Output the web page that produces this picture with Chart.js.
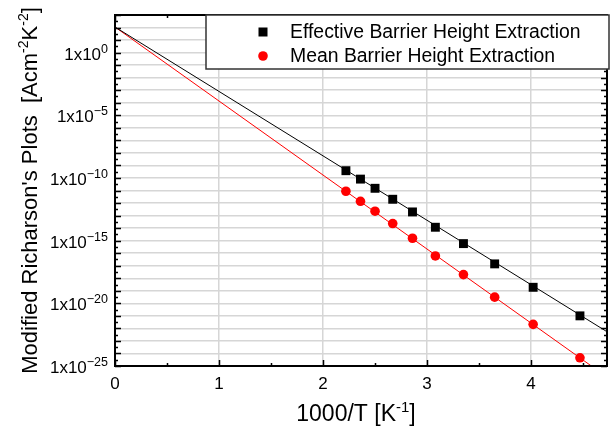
<!DOCTYPE html>
<html>
<head>
<meta charset="utf-8">
<script src="https://cdn.jsdelivr.net/npm/chart.js@4"></script>
<style>
  body { margin: 0; background: #fff; }
  #wrap { width: 616px; height: 428px; }
</style>
</head>
<body>
<div id="wrap"><canvas id="myChart" width="616" height="428"></canvas></div>
<script>
// 1000/T positions of the measured points
const invT = [2.22, 2.36, 2.50, 2.67, 2.86, 3.08, 3.35, 3.65, 4.02, 4.47];

// J/T^2 for both extractions [A cm^-2 K^-2]
const effective = [3.8e-10, 8.1e-11, 1.5e-11, 2.0e-12, 1.95e-13, 1.17e-14, 5.8e-16, 1.4e-17, 1.9e-19, 1.0e-21];
const mean = [8.7e-12, 1.38e-12, 2.24e-13, 2.3e-14, 1.55e-15, 6.0e-17, 1.95e-18, 3.1e-20, 2.1e-22, 4.5e-25];

// linear fits, from the intercept to the right edge
const fitX = [0, 4.73];
const effectiveFit = [1.1e2, 5.4e-23];
const meanFit = [1.1e2, 1.3e-26];

const seriesNames = ["Effective Barrier Height Extraction", "Mean Barrier Height Extraction"];

// axis ticks
const xTicks = [0, 1, 2, 3, 4];
const yLabelExponents = [0, -5, -10, -15, -20, -25];
const yMinExp = -25, yMaxExp = 3;

const FONT = '"Liberation Sans", Arial, Helvetica, sans-serif';
Chart.defaults.font.family = FONT;
Chart.defaults.color = '#000';

function pairs(xs, ys) {
  return xs.map(function (x, i) { return { x: x, y: ys[i] }; });
}

// text with superscript pieces: parts = [[text, isSup], ...]
function drawParts(ctx, parts, x, y, align, size, supSize, rise) {
  const widths = parts.map(function (p) {
    ctx.font = (p[1] ? supSize : size) + 'px ' + FONT;
    return ctx.measureText(p[0]).width;
  });
  const total = widths.reduce(function (a, b) { return a + b; }, 0);
  let cx = align === 'right' ? x - total : align === 'center' ? x - total / 2 : x;
  ctx.textAlign = 'left';
  ctx.textBaseline = 'alphabetic';
  parts.forEach(function (p, i) {
    ctx.font = (p[1] ? supSize : size) + 'px ' + FONT;
    ctx.fillText(p[0], cx, p[1] ? y - rise : y);
    cx += widths[i];
  });
}

const decorations = {
  id: 'decorations',
  afterDatasetsDraw: function (chart) {
    const ctx = chart.ctx;
    const a = chart.chartArea;
    const xs = chart.scales.x, ys = chart.scales.y;
    ctx.save();
    ctx.strokeStyle = '#000';

    // inward tick marks on all four sides
    ctx.lineWidth = 1.5;
    ctx.beginPath();
    for (let v = 0; v <= 4.5; v += 0.5) {
      const px = Math.round(xs.getPixelForValue(v)) + 0.5;
      const len = (v % 1 === 0) ? 6 : 3;
      ctx.moveTo(px, a.bottom); ctx.lineTo(px, a.bottom - len);
      ctx.moveTo(px, a.top); ctx.lineTo(px, a.top + len);
    }
    for (let e = yMinExp; e <= yMaxExp; e += 0.5) {
      const py = Math.round(ys.getPixelForValue(Math.pow(10, e))) + 0.5;
      const len = (e % 1 === 0) ? 6 : 3;
      ctx.moveTo(a.left, py); ctx.lineTo(a.left + len, py);
      ctx.moveTo(a.right, py); ctx.lineTo(a.right - len, py);
    }
    ctx.stroke();

    // frame
    ctx.lineWidth = 2;
    ctx.strokeRect(a.left, a.top, a.right - a.left, a.bottom - a.top);
    ctx.restore();
  },
  afterDraw: function (chart) {
    const ctx = chart.ctx;
    const a = chart.chartArea;
    const ys = chart.scales.y;
    ctx.save();
    ctx.fillStyle = '#000';

    // y tick labels 1x10^n
    yLabelExponents.forEach(function (e) {
      const py = ys.getPixelForValue(Math.pow(10, e));
      const exp = e < 0 ? '\u2212' + (-e) : String(e);
      drawParts(ctx, [['1x10', false], [exp, true]], a.left - 7, py + 7, 'right', 17, 12.5, 7);
    });

    // x title
    drawParts(ctx, [['1000/T [K', false], ['-1', true], [']', false]], 356, 421, 'center', 23, 15, 9);

    // y title
    ctx.save();
    ctx.translate(37, (a.top + a.bottom) / 2);
    ctx.rotate(-Math.PI / 2);
    drawParts(ctx, [["Modified Richarson's Plots  [Acm", false], ['-2', true], ['K', false], ['-2', true], [']', false]],
      0, 0, 'center', 22, 14, 9);
    ctx.restore();

    // legend box
    const lx = 206, ly = 15, lw = 403, lh = 54;
    ctx.fillStyle = '#fff';
    ctx.fillRect(lx, ly, lw, lh);
    ctx.strokeStyle = '#333';
    ctx.lineWidth = 1.5;
    ctx.strokeRect(lx, ly, lw, lh);

    ctx.fillStyle = '#000';
    ctx.fillRect(263 - 4.5, 32 - 4.5, 9, 9);
    ctx.fillStyle = '#ff0000';
    ctx.beginPath();
    ctx.arc(263, 56, 4.8, 0, Math.PI * 2);
    ctx.fill();

    ctx.fillStyle = '#000';
    ctx.font = '19.4px ' + FONT;
    ctx.textAlign = 'left';
    ctx.textBaseline = 'middle';
    ctx.fillText(seriesNames[0], 290, 33);
    ctx.fillText(seriesNames[1], 290, 57);
    ctx.restore();
  }
};

const data = {
  datasets: [
    {
      label: seriesNames[0] + ' fit',
      data: pairs(fitX, effectiveFit),
      showLine: true,
      borderColor: '#000',
      borderWidth: 1,
      pointRadius: 0,
      order: 2
    },
    {
      label: seriesNames[1] + ' fit',
      data: pairs(fitX, meanFit),
      showLine: true,
      borderColor: '#ff0000',
      borderWidth: 1,
      pointRadius: 0,
      order: 2
    },
    {
      label: seriesNames[0],
      data: pairs(invT, effective),
      pointStyle: 'rect',
      pointRadius: 6.3,
      backgroundColor: '#000',
      borderColor: '#000',
      borderWidth: 0,
      order: 1
    },
    {
      label: seriesNames[1],
      data: pairs(invT, mean),
      pointStyle: 'circle',
      pointRadius: 4.8,
      backgroundColor: '#ff0000',
      borderColor: '#ff0000',
      borderWidth: 0,
      order: 1
    }
  ]
};

const ctx = document.getElementById('myChart').getContext('2d');

const myChart = new Chart(ctx, {
  type: 'scatter',
  data: data,
  plugins: [decorations],
  options: {
    responsive: false,
    animation: false,
    layout: { padding: { top: 15, right: 9, left: 0, bottom: 0 } },
    plugins: { legend: { display: false }, tooltip: { enabled: false } },
    scales: {
      x: {
        type: 'linear',
        min: 0,
        max: 4.73,
        afterFit: function (s) { s.height = 62; },
        ticks: {
          stepSize: 1,
          includeBounds: false,
          padding: 8,
          font: { size: 17 },
          color: '#000'
        },
        afterBuildTicks: function (s) { s.ticks = xTicks.map(function (v) { return { value: v }; }); },
        grid: { color: '#d6d6d6', lineWidth: 1.5, drawTicks: false },
        border: { display: true, color: '#000', width: 2 }
      },
      y: {
        type: 'logarithmic',
        min: Math.pow(10, yMinExp),
        max: Math.pow(10, yMaxExp),
        afterFit: function (s) { s.width = 115; },
        afterBuildTicks: function (s) {
          const t = [];
          for (let e = yMinExp; e <= yMaxExp; e++) t.push({ value: Math.pow(10, e) });
          s.ticks = t;
        },
        ticks: { display: false },
        grid: { color: '#d6d6d6', lineWidth: 1.5, drawTicks: false },
        border: { display: true, color: '#000', width: 2 }
      }
    }
  }
});
</script>
</body>
</html>
